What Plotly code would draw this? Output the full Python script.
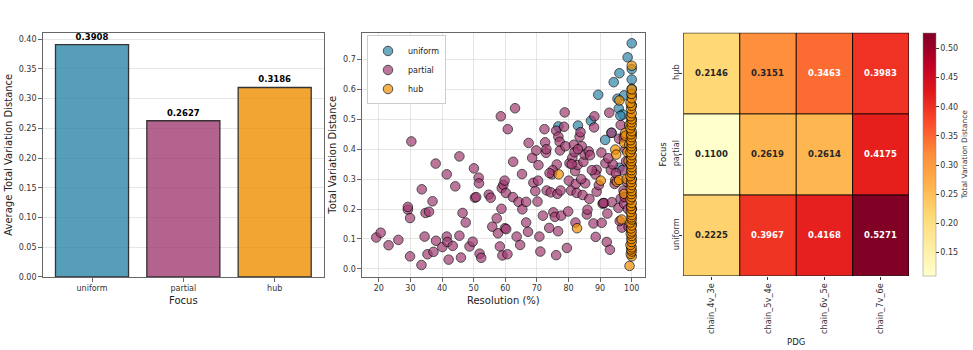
import plotly.graph_objects as go

# ---------------- data ----------------
focus_cats = ["uniform", "partial", "hub"]
avg_tvd = [0.3908, 0.2627, 0.3186]

partial_x = [19.2, 20.6, 23.1, 26.2, 29.2, 29.2, 29.9, 29.9, 30.3, 33.6, 33.5, 34.5, 34.8, 35.9, 35.4,
             37.0, 37.3, 38.1, 38.0, 40.1, 41.5, 41.5, 41.7, 42.1, 43.4, 44.2, 45.5, 45.5, 46.0, 46.5,
             47.5, 48.7, 49.7, 50.1, 50.4, 50.8, 51.6, 51.7, 51.9, 52.4, 54.8, 55.4, 55.9, 57.3, 57.7,
             58.3, 58.6, 58.8, 58.9, 59.4, 59.1, 59.8, 59.9, 60.3, 60.7, 60.8, 60.2, 63.1, 62.5, 62.4,
             63.6, 64.2, 64.7, 65.3, 65.4, 66.6, 66.6, 67.2, 67.4, 68.5, 68.9, 69.8, 70.2, 70.4, 70.5,
             70.8, 71.1, 71.9, 72.4, 72.6, 72.9, 73.1, 73.9, 74.4, 74.8, 75.2, 75.7, 76.1, 76.3, 76.5,
             76.8, 76.7, 76.1, 77.2, 77.3, 77.5, 77.7, 78.6, 78.8, 79.5, 79.9, 80.1, 80.3, 80.8, 81.2,
             81.7, 81.9, 82.1, 82.3, 82.6, 82.2, 82.9, 83.5, 83.8, 84.2, 84.5, 84.7, 85.1, 85.3, 85.8,
             86.0, 86.6, 86.4, 87.9, 88.1, 88.2, 88.6, 88.9, 88.9, 88.5, 90.4, 90.5, 90.8, 91.3, 91.7,
             92.1, 92.3, 92.9, 93.1, 93.7, 93.4, 94.0, 93.6, 95.8, 96.9, 96.5, 97.4, 97.6, 94.6, 96.0,
             96.5, 94.8, 97.5, 98.0, 98.2, 97.0, 98.5, 97.8, 98.8, 99.0, 96.2, 73.0, 75.0, 79.0, 83.0,
             84.0, 86.8, 87.4, 81.0, 74.0, 69.5, 89.6, 91.0, 92.6, 95.0]
partial_y = [0.105, 0.121, 0.079, 0.097, 0.198, 0.207, 0.170, 0.042, 0.426, 0.266, 0.013, 0.108, 0.187,
             0.191, 0.049, 0.226, 0.057, 0.094, 0.352, 0.073, 0.108, 0.316, 0.090, 0.031, 0.077, 0.276,
             0.111, 0.376, 0.038, 0.187, 0.155, 0.075, 0.091, 0.336, 0.238, 0.240, 0.305, 0.286, 0.051,
             0.037, 0.248, 0.238, 0.141, 0.169, 0.119, 0.075, 0.510, 0.201, 0.270, 0.281, 0.045, 0.295,
             0.136, 0.133, 0.049, 0.467, 0.254, 0.537, 0.358, 0.240, 0.108, 0.224, 0.080, 0.317, 0.199,
             0.224, 0.155, 0.124, 0.421, 0.371, 0.288, 0.396, 0.225, 0.295, 0.347, 0.108, 0.058, 0.178,
             0.467, 0.423, 0.388, 0.262, 0.137, 0.256, 0.316, 0.189, 0.174, 0.462, 0.349, 0.251, 0.442,
             0.126, 0.046, 0.425, 0.396, 0.262, 0.178, 0.475, 0.523, 0.070, 0.192, 0.295, 0.353, 0.262,
             0.371, 0.415, 0.390, 0.327, 0.284, 0.254, 0.155, 0.347, 0.442, 0.457, 0.410, 0.247, 0.358,
             0.382, 0.286, 0.182, 0.198, 0.234, 0.393, 0.152, 0.473, 0.510, 0.107, 0.258, 0.331, 0.316,
             0.389, 0.154, 0.218, 0.220, 0.353, 0.090, 0.185, 0.522, 0.064, 0.223, 0.330, 0.349, 0.455,
             0.204, 0.138, 0.235, 0.262, 0.218, 0.284, 0.435, 0.481, 0.297, 0.440, 0.400, 0.360, 0.330,
             0.290, 0.240, 0.200, 0.140, 0.160, 0.400, 0.330, 0.410, 0.400, 0.300, 0.380, 0.330, 0.350,
             0.320, 0.260, 0.280, 0.220, 0.370, 0.320, 0.290]

uniform_x = [100, 98.7, 100, 100, 96.1, 94.3, 89.4, 100, 100, 95.5, 97.6, 95.9, 97.2, 96.4, 87.1, 83.0,
             76.8, 91.6, 96.1, 100, 100, 100, 100, 99.6, 100, 99.8, 100, 100, 93.6]
uniform_y = [0.754, 0.707, 0.668, 0.633, 0.654, 0.624, 0.582, 0.602, 0.580, 0.569, 0.580, 0.536, 0.516,
             0.512, 0.495, 0.479, 0.476, 0.431, 0.338, 0.547, 0.500, 0.450, 0.400, 0.350, 0.300, 0.250,
             0.200, 0.150, 0.455]

hub_x = [100, 96.1, 94.8, 95.1, 90.2, 76.9, 82.7, 96.8, 95.3, 96.0, 97.6, 97.6, 97.9, 99.2, 99.2, 99.0,
         99.3, 98.4, 98.0, 98.6,
         100, 99.7, 100, 99.8, 100, 99.6, 100, 99.9, 100, 99.7, 100, 99.8, 100, 99.6, 100, 99.9, 100,
         99.7, 100, 99.8, 100, 99.6, 100, 99.9, 100, 99.7, 100, 99.8, 100, 99.6, 100, 99.9, 100, 99.7,
         100, 99.8, 100, 99.6, 100, 99.9, 100, 99.7, 100, 99.8, 100, 99.6, 100, 99.9, 100, 99.7, 100,
         99.8, 100, 99.6, 100, 99.9, 100]
hub_y = [0.679, 0.563, 0.399, 0.382, 0.295, 0.316, 0.136, 0.165, 0.291, 0.297, 0.251, 0.421, 0.454,
         0.481, 0.415, 0.360, 0.010, 0.300, 0.445, 0.390,
         0.042, 0.050, 0.058, 0.065, 0.072, 0.080, 0.090, 0.100, 0.110, 0.118, 0.125, 0.135, 0.145,
         0.155, 0.165, 0.172, 0.180, 0.190, 0.200, 0.210, 0.220, 0.232, 0.240, 0.250, 0.260, 0.270,
         0.280, 0.290, 0.300, 0.310, 0.320, 0.330, 0.340, 0.350, 0.360, 0.370, 0.380, 0.390, 0.400,
         0.410, 0.420, 0.430, 0.440, 0.450, 0.460, 0.470, 0.480, 0.490, 0.500, 0.510, 0.520, 0.535,
         0.545, 0.555, 0.570, 0.585, 0.600, 0.612]

pdg_cats = ["chain_4v_3e", "chain_5v_4e", "chain_6v_5e", "chain_7v_6e"]
heat_rows = ["uniform", "partial", "hub"]
heat_uniform = [0.2225, 0.3967, 0.4168, 0.5271]
heat_partial = [0.1100, 0.2619, 0.2614, 0.4175]
heat_hub = [0.2146, 0.3151, 0.3463, 0.3983]

# ---------------- style ----------------
W, H = 973, 350
COL = {"uniform": "#2E86AB", "partial": "#A23B72", "hub": "#F18F01"}
FONT = "DejaVu Sans"
SPINE = "#666666"
GRID = "rgba(200,200,200,0.45)"
ylorrd = ["#ffffcc", "#ffeda0", "#fed976", "#feb24c", "#fd8d3c",
          "#fc4e2a", "#e31a1c", "#bd0026", "#800026"]
cscale = [[i / (len(ylorrd) - 1), c] for i, c in enumerate(ylorrd)]


def px_x(a, b):
    return [a / W, b / W]


def px_y(top, bot):
    return [1 - bot / H, 1 - top / H]


fig = go.Figure()

# ---- bar chart ----
fig.add_trace(go.Bar(
    x=focus_cats, y=avg_tvd, xaxis="x", yaxis="y",
    marker=dict(color=[COL[c] for c in focus_cats], opacity=0.8,
                line=dict(color="black", width=1.3)),
    width=0.8,
    text=[f"{v:.4f}" for v in avg_tvd], textposition="outside",
    textfont=dict(family=FONT, size=8.5, color="black", weight="bold"),
    cliponaxis=False, showlegend=False,
))

# ---- scatter ----
for name, xs, ys in [("uniform", uniform_x, uniform_y),
                     ("partial", partial_x, partial_y),
                     ("hub", hub_x, hub_y)]:
    fig.add_trace(go.Scatter(
        x=xs, y=ys, mode="markers", name=name, xaxis="x2", yaxis="y2",
        marker=dict(size=9.5, color=COL[name], opacity=0.7,
                    line=dict(color="black", width=1)),
    ))

tick_font = dict(family=FONT, size=8, color="#333")
title_font = dict(family=FONT, size=10, color="#222")

# ---- heatmap ----
z = [heat_uniform, heat_partial, heat_hub]
fig.add_trace(go.Heatmap(
    z=z, x=pdg_cats, y=heat_rows, xaxis="x3", yaxis="y3",
    colorscale=cscale, zmin=min(min(r) for r in z), zmax=max(max(r) for r in z),
    showscale=True,
    colorbar=dict(
        x=923 / W, xanchor="left", xpad=0, ypad=0, thickness=12.5, thicknessmode="pixels",
        len=247 / H, lenmode="fraction", y=1 - 156.5 / H, yanchor="middle",
        outlinewidth=0.5, outlinecolor="#888",
        tickvals=[0.15, 0.20, 0.25, 0.30, 0.35, 0.40, 0.45, 0.50], tickformat=".2f",
        ticks="outside", ticklen=3, tickcolor="#333",
        tickfont=tick_font,
        title=dict(text="Total Variation Distance", side="right",
                   font=dict(family=FONT, size=7.5, color="#333")),
    ),
    hoverongaps=False,
))

annotations = []
for ri, row in enumerate(heat_rows):
    for ci, cat in enumerate(pdg_cats):
        v = z[ri][ci]
        annotations.append(dict(
            x=cat, y=row, xref="x3", yref="y3", text=f"<b>{v:.4f}</b>", showarrow=False,
            font=dict(family=FONT, size=8.5, color="white" if v > 0.33 else "#262626"),
        ))

shapes = []
for i in range(len(pdg_cats) + 1):
    shapes.append(dict(type="line", xref="x3", yref="y3", x0=i - 0.5, x1=i - 0.5,
                       y0=-0.5, y1=len(heat_rows) - 0.5, line=dict(color="black", width=1)))
for j in range(len(heat_rows) + 1):
    shapes.append(dict(type="line", xref="x3", yref="y3", y0=j - 0.5, y1=j - 0.5,
                       x0=-0.5, x1=len(pdg_cats) - 0.5, line=dict(color="black", width=1)))


def frame_axis(**kw):
    d = dict(showline=True, linecolor=SPINE, linewidth=1.2, mirror=True,
             ticks="outside", ticklen=3.5, tickcolor=SPINE, tickfont=tick_font,
             zeroline=False)
    d.update(kw)
    return d


fig.update_layout(
    width=W, height=H, margin=dict(l=0, r=0, t=0, b=0),
    paper_bgcolor="white", plot_bgcolor="white",
    font=dict(family=FONT),
    xaxis=frame_axis(anchor="y", domain=px_x(42.7, 324), range=[-0.54, 2.54], showgrid=False,
                     title=dict(text="Focus", font=title_font, standoff=4)),
    yaxis=frame_axis(anchor="x", domain=px_y(33, 281), range=[0, 0.411], dtick=0.05, tickformat=".2f",
                     showgrid=True, gridcolor=GRID, gridwidth=1,
                     title=dict(text="Average Total Variation Distance", font=title_font, standoff=4)),
    xaxis2=frame_axis(anchor="y2", domain=px_x(362, 644.7), range=[14.7, 104.1], dtick=10,
                      showgrid=True, gridcolor=GRID, gridwidth=1,
                      title=dict(text="Resolution (%)", font=title_font, standoff=4)),
    yaxis2=frame_axis(anchor="x2", domain=px_y(33, 281), range=[-0.027, 0.79], dtick=0.1, tickformat=".1f",
                      showgrid=True, gridcolor=GRID, gridwidth=1,
                      title=dict(text="Total Variation Distance", font=title_font, standoff=4)),
    xaxis3=dict(anchor="y3", domain=px_x(683.3, 909), showline=False, showgrid=False, zeroline=False,
                ticks="outside", ticklen=3, tickcolor="#333", tickangle=-90,
                tickfont=dict(family=FONT, size=8.2, color="#333"),
                range=[-0.5, 3.5],
                title=dict(text="PDG", font=dict(family=FONT, size=8.5, color="#222"), standoff=6)),
    yaxis3=dict(anchor="x3", domain=px_y(33.3, 280), showline=False, showgrid=False, zeroline=False,
                ticks="outside", ticklen=3, tickcolor="#333", tickangle=-90,
                tickfont=dict(family=FONT, size=8.2, color="#333"), ticklabelstandoff=-3,
                range=[-0.5, 2.5],
                title=dict(text="Focus", font=dict(family=FONT, size=8.5, color="#222"), standoff=3)),
    legend=dict(x=367 / W, y=1 - 36 / H, xanchor="left", yanchor="top",
                bgcolor="rgba(255,255,255,0.85)", bordercolor="#ccc", borderwidth=1,
                font=dict(family=FONT, size=8, color="#222"), tracegroupgap=0,
                itemwidth=30),
    annotations=annotations, shapes=shapes,
)

fig.write_html("out.html")
